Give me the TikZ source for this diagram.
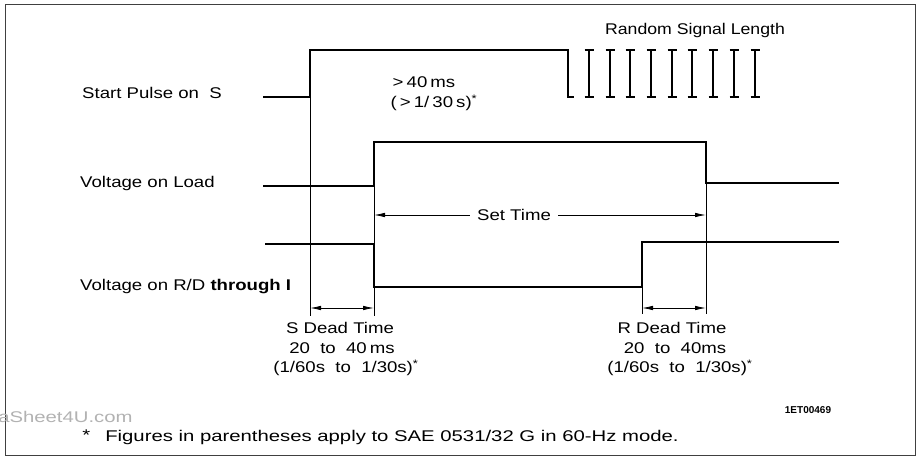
\documentclass[tikz,border=0pt]{standalone}
\usepackage{fontspec}
\setmainfont{Liberation Sans}
\usetikzlibrary{arrows.meta}
\begin{document}
\begin{tikzpicture}[x=1pt,y=-1pt,
  sig/.style={line width=2.2pt, line join=miter},
  tick/.style={line width=2.4pt},
  extl/.style={line width=0.8pt},
  dimarr/.style={line width=0.8pt, {Latex[length=11pt,width=4.5pt]}-{Latex[length=11pt,width=4.5pt]}},
  onearr/.style={line width=0.8pt, -{Latex[length=11pt,width=4.5pt]}},
  lbl/.style={font=\fontsize{15.5}{18}\selectfont, inner sep=0pt, xscale=1.2},
  note/.style={font=\fontsize{15.5}{18}\selectfont, inner sep=0pt, xscale=1.31},
  code/.style={font=\fontsize{10}{12}\selectfont\bfseries, inner sep=0pt}]
\useasboundingbox (0,0) rectangle (918,462);
\draw[line width=0.8pt, black!75] (5,4) rectangle (915,455);

% labels on the left
\node[lbl, anchor=west] (lstart) at (82,93) {Start Pulse on\ \ S};
\node[lbl, anchor=west] (lload) at (80,183) {Voltage on Load};
\node[lbl, anchor=west] (lrd) at (80,287) {Voltage on R/D \textbf{through I}};

% start pulse
\draw[sig] (263,97) -- (310,97) -- (310,50) -- (568,50) -- (568,97) -- (574,97);
\foreach \xx in {589,610,630,651,672,692,713,734,755}{
  \draw[tick] (\xx,50) -- (\xx,97);
  \draw[tick] (\xx-4.5,50) -- (\xx+4.5,50);
  \draw[tick] (\xx-4.5,97) -- (\xx+4.5,97);
}
\node[lbl, xscale=0.95] (rsl) at (695,30) {Random Signal Length};
\node[lbl] (t40) at (424,82) {>\,40\,ms};
\node[lbl] (t30) at (434,103) {(\,>\,1/\,30\,s)\textsuperscript{*}};

% voltage on load
\draw[sig] (263,186) -- (374,186) -- (374,142) -- (706,142) -- (706,183) -- (839,183);
% voltage on R/D
\draw[sig] (265,244) -- (374,244) -- (374,287) -- (642,287) -- (642,242) -- (839,242);

% extension lines
\coordinate (e1t) at (310,50);  \coordinate (e1b) at (310,316);
\coordinate (e2t) at (374,142); \coordinate (e2b) at (374,316);
\coordinate (e3t) at (706,142); \coordinate (e3b) at (706,314);
\coordinate (e4t) at (642,287); \coordinate (e4b) at (642,314);
\draw[extl] (e1t) -- (e1b);
\draw[extl] (e2t) -- (e2b);
\draw[extl] (e3t) -- (e3b);
\draw[extl] (e4t) -- (e4b);

% set time
\node[lbl] (settime) at (514,215) {Set Time};
\coordinate (stl) at (374,215);
\coordinate (str) at (706,215);
\draw[onearr] ([xshift=-7pt]settime.west) -- (stl);
\draw[onearr] ([xshift=7pt]settime.east) -- (str);

% dead times
\coordinate (sdl) at (310,308); \coordinate (sdr) at (374,308);
\coordinate (rdl) at (642,308); \coordinate (rdr) at (706,308);
\draw[dimarr] (sdl) -- (sdr);
\draw[dimarr] (rdl) -- (rdr);

\node[lbl] (sd1) at (340,328) {S Dead Time};
\node[lbl] (sd2) at (342,348) {20\ \ to\ \ 40\,ms};
\node[lbl] (sd3) at (346,368) {(1/60s\ \ to\ \ 1/30s)\textsuperscript{*}};

\node[lbl] (rd1) at (672,328) {R Dead Time};
\node[lbl] (rd2) at (675,348) {20\ \ to\ \ 40ms};
\node[lbl] (rd3) at (680,368) {(1/60s\ \ to\ \ 1/30s)\textsuperscript{*}};

\node[code] (code) at (808,410) {1ET00469};

% watermark
\node[note, text=black!30, anchor=west] (wm) at (-2,417) {aSheet4U.com};

% footnote
\node[note, anchor=west] (star) at (82,435) {*};
\node[note, anchor=west] (fn) at (105,437) {Figures in parentheses apply to SAE 0531/32 G in 60-Hz mode.};
\end{tikzpicture}
\end{document}
